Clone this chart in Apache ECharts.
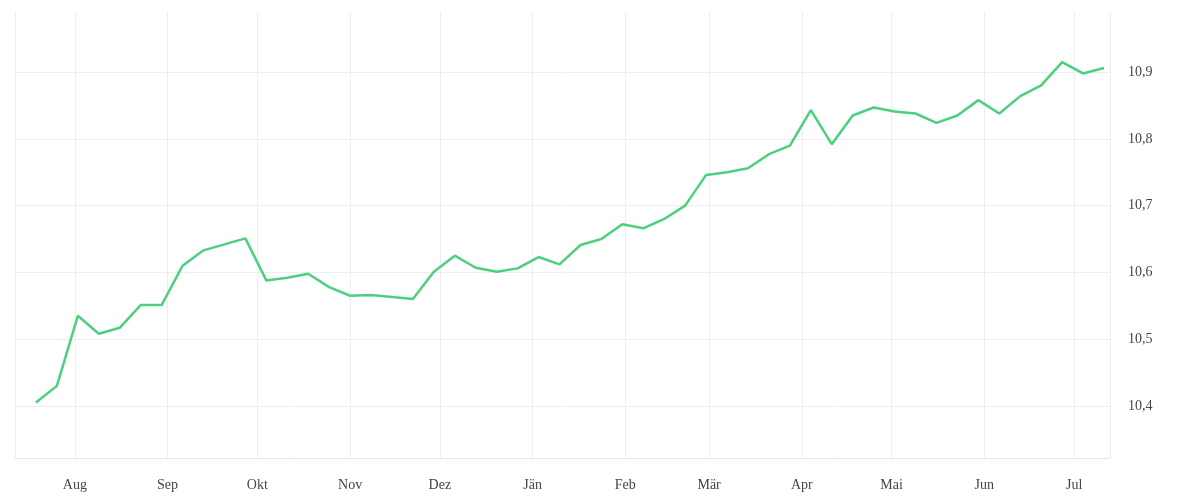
<!DOCTYPE html>
<html><head><meta charset="utf-8">
<script src="https://cdn.jsdelivr.net/npm/echarts@6/dist/echarts.min.js"></script>
<style>html,body{margin:0;background:#fff}#c{width:1200px;height:500px}</style>
</head><body><div id="c"></div>
<script>
const startDate = '2022-07-19';
const monthNames = ['Jän','Feb','Mär','Apr','Mai','Jun','Jul','Aug','Sep','Okt','Nov','Dez'];
const yTicks = [10.4,10.5,10.6,10.7,10.8,10.9];
const values = [10.405,10.43,10.535,10.508,10.517,10.551,10.551,10.61,10.633,10.642,10.651,10.588,10.592,10.598,10.578,10.565,10.566,10.563,10.560,10.601,10.625,10.607,10.601,10.606,10.623,10.612,10.641,10.650,10.672,10.666,10.680,10.700,10.746,10.750,10.756,10.777,10.790,10.843,10.792,10.835,10.847,10.841,10.838,10.824,10.835,10.858,10.838,10.864,10.880,10.915,10.898,10.906];
const t0 = Date.UTC(2022,6,19);
const data = values.map((v,i)=>[t0+i*7*86400000, v]);
const font = 'Liberation Serif';
const DAY = 86400000;
const chart = echarts.init(document.getElementById('c'));
chart.setOption({
  animation:false,
  grid:{left:15,right:90,top:12,bottom:42},
  xAxis:{type:'time',min:Date.UTC(2022,6,12),max:Date.UTC(2023,6,13),
    minInterval:28*DAY,maxInterval:31*DAY,
    axisLine:{lineStyle:{color:'#e6e6e6'}},axisTick:{show:false},
    splitLine:{show:true,lineStyle:{color:'#eeeeee'}},
    axisLabel:{color:'#444',fontFamily:font,fontSize:14,margin:20,
      formatter:function(v){const d=new Date(v);return d.getUTCDate()===1?monthNames[d.getUTCMonth()]:'';}}},
  yAxis:{type:'value',position:'right',min:10.322,max:10.99,
    axisLine:{show:false},
    axisTick:{show:false,customValues:yTicks},
    axisLabel:{color:'#444',fontFamily:font,fontSize:14,margin:18,customValues:yTicks,
      formatter:v=>v.toFixed(1).replace('.',',')},
    splitLine:{lineStyle:{color:'#eeeeee'}}},
  series:[{type:'line',data:data,showSymbol:false,lineStyle:{color:'#4cd07d',width:2.5},itemStyle:{color:'#4cd07d'}}]
});
</script></body></html>
